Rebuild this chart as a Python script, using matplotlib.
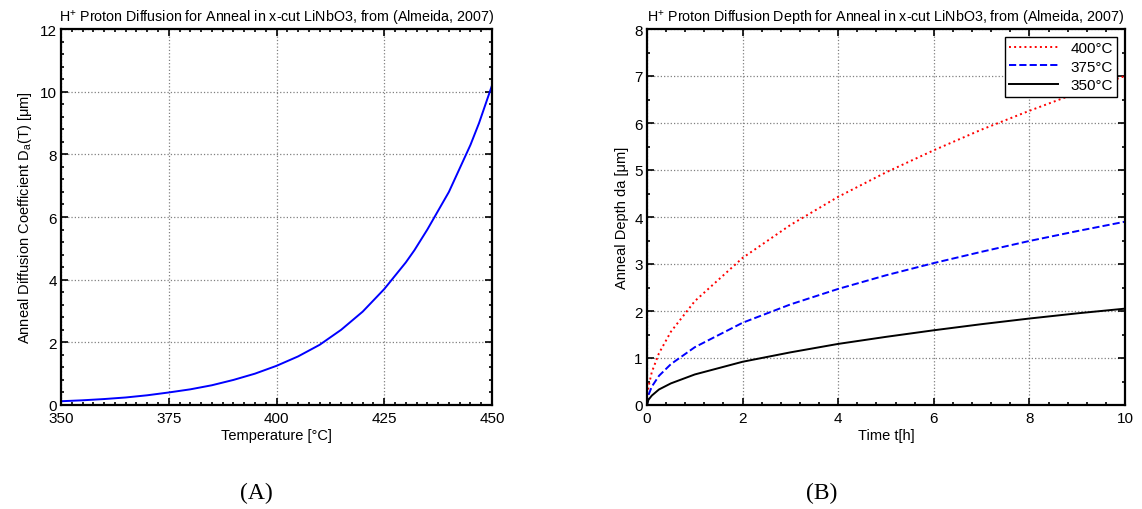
import matplotlib
matplotlib.use('Agg')
import matplotlib.pyplot as plt
from matplotlib.ticker import MultipleLocator

plt.rcParams['font.family'] = ['Liberation Sans', 'DejaVu Sans']
plt.rcParams['mathtext.fontset'] = 'custom'
plt.rcParams['mathtext.rm'] = 'Liberation Sans'
plt.rcParams['mathtext.it'] = 'Liberation Sans'
plt.rcParams['mathtext.default'] = 'regular'

# (A) anneal diffusion coefficient vs temperature
temp_c = [350, 355, 360, 365, 370, 375, 380, 385, 390, 395, 400,
          405, 410, 415, 420, 425, 430, 432, 435, 437, 440, 442, 445, 447, 450]
diff_coef = [0.12, 0.15, 0.19, 0.24, 0.31, 0.40, 0.50, 0.63, 0.80, 1.00, 1.25,
             1.55, 1.92, 2.40, 2.98, 3.70, 4.55, 4.94, 5.60, 6.08, 6.80, 7.40, 8.30, 9.00, 10.2]

# (B) anneal depth vs time
time_h = [0, 0.03, 0.1, 0.25, 0.5, 1, 2, 3, 4, 5, 6, 7, 8, 9, 10]
depth_400 = [0, 0.38, 0.70, 1.10, 1.56, 2.21, 3.13, 3.83, 4.43, 4.95, 5.42, 5.86, 6.26, 6.64, 7.00]
depth_375 = [0, 0.21, 0.39, 0.62, 0.87, 1.23, 1.75, 2.14, 2.47, 2.76, 3.02, 3.26, 3.49, 3.70, 3.90]
depth_350 = [0, 0.11, 0.20, 0.33, 0.46, 0.65, 0.92, 1.12, 1.30, 1.45, 1.59, 1.72, 1.84, 1.95, 2.05]


def matlab_style(ax, xminor, yminor):
    ax.xaxis.set_minor_locator(MultipleLocator(xminor))
    ax.yaxis.set_minor_locator(MultipleLocator(yminor))
    ax.tick_params(which='both', direction='in', top=True, right=True, labelsize=11)
    ax.tick_params(axis='x', which='both', pad=4.5)
    ax.tick_params(axis='y', which='both', pad=3)
    ax.tick_params(which='major', length=5, width=1.2)
    ax.tick_params(which='minor', length=2.5, width=1.2)
    for sp in ax.spines.values():
        sp.set_linewidth(1.6)
    ax.grid(True, which='major', color='gray', linestyle=':', linewidth=0.9)
    ax.set_axisbelow(True)


fig = plt.figure(figsize=(11.42, 5.10), dpi=100)

ax1 = fig.add_axes([61/1142, 104/510, 431/1142, 376/510])
ax1.plot(temp_c, diff_coef, color='blue', lw=1.4)
ax1.set_xlim(350, 450)
ax1.set_ylim(0, 12)
ax1.set_xticks([350, 375, 400, 425, 450])
ax1.set_yticks(range(0, 13, 2))
matlab_style(ax1, 2.5, 0.4)
ax1.set_title('H$^{+}$ Proton Diffusion for Anneal in x-cut LiNbO3, from (Almeida, 2007)', fontsize=10.3, pad=5)
ax1.set_xlabel('Temperature [°C]', fontsize=10.5, labelpad=2)
ax1.set_ylabel('Anneal Diffusion Coefficient D$_{a}$(T) [μm]', fontsize=10.5)

ax2 = fig.add_axes([647/1142, 104/510, 478/1142, 376/510])
ax2.plot(time_h, depth_400, color='red', ls=':', lw=1.4, label='400°C')
ax2.plot(time_h, depth_375, color='blue', ls='--', lw=1.4, label='375°C')
ax2.plot(time_h, depth_350, color='black', ls='-', lw=1.4, label='350°C')
ax2.set_xlim(0, 10)
ax2.set_ylim(0, 8)
ax2.set_xticks(range(0, 11, 2))
ax2.set_yticks(range(0, 9))
matlab_style(ax2, 0.4, 0.5)
ax2.set_title('H$^{+}$ Proton Diffusion Depth for Anneal in x-cut LiNbO3, from (Almeida, 2007)', fontsize=10.3, pad=5)
ax2.set_xlabel('Time t[h]', fontsize=10.5, labelpad=2)
ax2.set_ylabel('Anneal Depth da [μm]', fontsize=10.5)
leg = ax2.legend(loc='upper right', fontsize=11, fancybox=False, framealpha=1,
                 edgecolor='black', handlelength=3.2, borderaxespad=0.5,
                 labelspacing=0.3, borderpad=0.3)
leg.get_frame().set_linewidth(1.0)

fig.text(256/1142, 1 - 493/510, '(A)', family='Liberation Serif', fontsize=17, ha='center', va='center')
fig.text(822/1142, 1 - 493/510, '(B)', family='Liberation Serif', fontsize=17, ha='center', va='center')

fig.savefig('out.png', dpi=100)
